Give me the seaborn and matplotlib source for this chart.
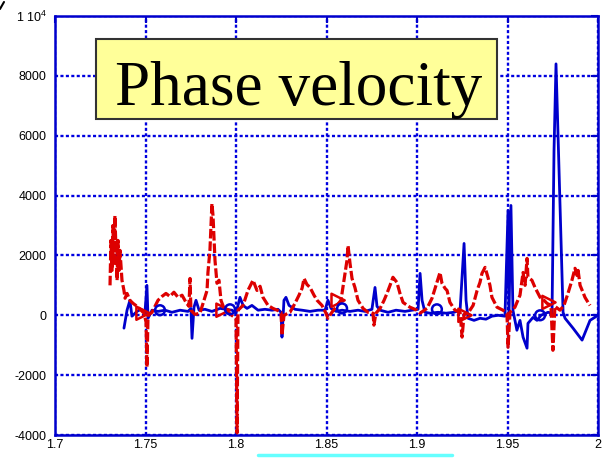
import numpy as np
import pandas as pd
import matplotlib
matplotlib.use("Agg")
import matplotlib.pyplot as plt
from matplotlib.patches import Rectangle
from matplotlib.lines import Line2D
import seaborn as sns

# ---------------- data ----------------
blue_x = [1.7381, 1.7398, 1.7414, 1.7425, 1.7453, 1.7475, 1.7497, 1.7508, 1.7514, 1.7536,
          1.7569, 1.7608, 1.7646, 1.7691, 1.7735, 1.7751, 1.7757, 1.7768, 1.7779, 1.7796,
          1.7829, 1.7867, 1.7912, 1.7945, 1.7978, 1.8000, 1.8022, 1.8039, 1.8061, 1.8088,
          1.8122, 1.8160, 1.8199, 1.8232, 1.8249, 1.8254, 1.8265, 1.8276, 1.8293, 1.8326,
          1.8365, 1.8409, 1.8453, 1.8492, 1.8508, 1.8525, 1.8553, 1.8586, 1.8630, 1.8674,
          1.8713, 1.8751, 1.8768, 1.8779, 1.8796, 1.8840, 1.8884, 1.8934, 1.8972, 1.9006,
          1.9017, 1.9028, 1.9044, 1.9072, 1.9116, 1.9160, 1.9204, 1.9238, 1.9260, 1.9271,
          1.9282, 1.9315, 1.9348, 1.9381, 1.9414, 1.9448, 1.9486, 1.9503, 1.9508, 1.9519,
          1.9530, 1.9552, 1.9569, 1.9586, 1.9608, 1.9613, 1.9641, 1.9663, 1.9685, 1.9724,
          1.9746, 1.9757, 1.9768, 1.9807, 1.9818, 1.9862, 1.9912, 1.9934, 1.9956, 2.0000]
blue_y = [-430, 170, 500, -30, 130, 200, 100, 1000, -100, 170,
          130, 170, 100, 170, 130, 230, -770, 270, 500, 170,
          200, 130, 230, 200, 170, 70, 600, 330, 230, 330,
          170, 200, 170, 200, 100, -730, 500, 600, 330, 200,
          170, 130, 170, 170, 500, 230, 130, 170, 130, 170,
          130, 200, 930, 300, 170, 100, 170, 130, 170, 200,
          1400, 500, 100, 70, 100, 70, 100, 170, 2400, 500,
          -100, -170, -100, -130, -30, 0, -30, 3500, -100, 3670,
          170, -500, -170, -730, -1100, -270, -70, -170, 0, 100,
          70, 5500, 8400, 100, -100, -430, -830, -500, -170, 0]

red_x = [1.7304, 1.7309, 1.7315, 1.7320, 1.7326, 1.7331, 1.7337, 1.7343, 1.7348, 1.7354,
         1.7359, 1.7370, 1.7381, 1.7387, 1.7398, 1.7414, 1.7431, 1.7453, 1.7475, 1.7492,
         1.7503, 1.7508, 1.7514, 1.7536, 1.7569, 1.7591, 1.7613, 1.7635, 1.7657, 1.7680,
         1.7702, 1.7724, 1.7740, 1.7746, 1.7751, 1.7773, 1.7801, 1.7823, 1.7840, 1.7845,
         1.7856, 1.7867, 1.7873, 1.7878, 1.7884, 1.7895, 1.7906, 1.7917, 1.7934, 1.7956,
         1.7983, 1.8000, 1.8006, 1.8011, 1.8039, 1.8066, 1.8094, 1.8116, 1.8133, 1.8149,
         1.8177, 1.8204, 1.8227, 1.8249, 1.8254, 1.8265, 1.8298, 1.8326, 1.8348, 1.8365,
         1.8376, 1.8392, 1.8409, 1.8431, 1.8448, 1.8475, 1.8497, 1.8508, 1.8530, 1.8558,
         1.8580, 1.8602, 1.8613, 1.8619, 1.8630, 1.8641, 1.8657, 1.8674, 1.8702, 1.8729,
         1.8757, 1.8762, 1.8773, 1.8796, 1.8818, 1.8834, 1.8851, 1.8867, 1.8889, 1.8906,
         1.8923, 1.8961, 1.9000, 1.9017, 1.9055, 1.9083, 1.9105, 1.9127, 1.9138, 1.9155,
         1.9166, 1.9182, 1.9210, 1.9238, 1.9249, 1.9260, 1.9282, 1.9310, 1.9332, 1.9348,
         1.9359, 1.9376, 1.9392, 1.9403, 1.9414, 1.9442, 1.9475, 1.9497, 1.9503, 1.9514,
         1.9541, 1.9569, 1.9586, 1.9597, 1.9608, 1.9613, 1.9635, 1.9652, 1.9680, 1.9702,
         1.9718, 1.9740, 1.9751, 1.9762, 1.9790, 1.9812, 1.9834, 1.9856, 1.9873, 1.9884,
         1.9890, 1.9901, 1.9917, 1.9928, 1.9945, 1.9956]
red_y = [1000, 2500, 1500, 3000, 1670, 3330, 2170, 1170, 2500, 1500,
         2170, 1170, 830, 570, 730, 500, 400, 300, 170, 70,
         -230, -1730, 0, 100, 500, 630, 730, 630, 770, 600,
         670, 430, 300, 1230, 170, 30, 70, 500, 830, 1430,
         2170, 3730, 3330, 2670, 1830, 1070, 1170, 500, 230, 100,
         -30, -100, -3930, 170, 330, 830, 1170, 830, 970, 600,
         330, 230, 170, 100, -670, 0, 100, 400, 670, 900,
         1230, 1030, 930, 670, 500, 330, 70, -100, 100, 330,
         500, 1400, 1830, 2330, 1730, 1230, 930, 500, 230, 100,
         70, -330, 70, 230, 500, 730, 1000, 1270, 1100, 730,
         430, 270, 170, 70, 230, 570, 1000, 1430, 1070, 900,
         830, 430, 170, 100, -730, 30, 70, 330, 830, 1100,
         1400, 1600, 1270, 1000, 600, 270, 170, 70, -1070, 100,
         270, 670, 1430, 1000, 1900, 1270, 1170, 930, 600, 500,
         400, 330, -1170, 300, 170, 330, 730, 1170, 1570, 1330,
         1500, 1000, 770, 600, 430, 330]

red_mark_x = [1.7486, 1.7928, 1.8564, 1.9265, 1.9729]
red_mark_y = [70, 170, 500, 0, 430]
blue_mark_x = [1.7580, 1.7967, 1.8586, 1.9110, 1.9680]
blue_mark_y = [170, 200, 230, 200, 0]

yticks = [-4000, -2000, 0, 2000, 4000, 6000, 8000, 10000]
ytick_labels = ['-4000', '-2000', '0', '2000', '4000', '6000', '8000', '1 10$^{4}$']
xticks = [1.7, 1.75, 1.8, 1.85, 1.9, 1.95, 2.0]
xtick_labels = ['1.7', '1.75', '1.8', '1.85', '1.9', '1.95', '2']
title_text = "Phase velocity"

# ---------------- styling ----------------
sns.set_style("white")
plt.rcParams['font.family'] = ['Liberation Sans', 'DejaVu Sans']
plt.rcParams['mathtext.default'] = 'regular'

BLUE = '#0000CC'
GRIDBLUE = '#0000E0'
RED = '#DD0000'

W, H = 613, 458
fig = plt.figure(figsize=(W / 100, H / 100), dpi=100)
ax = fig.add_axes([55 / W, 23 / H, 543 / W, 419 / H])

blue_df = pd.DataFrame({'x': blue_x, 'y': blue_y})
red_df = pd.DataFrame({'x': red_x, 'y': red_y})

sns.lineplot(data=blue_df, x='x', y='y', ax=ax, sort=False, estimator=None,
             color=BLUE, linewidth=2.0, zorder=3)
sns.lineplot(data=red_df, x='x', y='y', ax=ax, sort=False, estimator=None,
             color=RED, linewidth=2.3, linestyle=(0, (3, 0.9)), zorder=4)

sns.scatterplot(x=red_mark_x, y=red_mark_y, ax=ax, marker='>', s=90,
                facecolor='none', edgecolor=RED, linewidth=1.8, zorder=5)
sns.scatterplot(x=blue_mark_x, y=blue_mark_y, ax=ax, marker='o', s=50,
                facecolor='none', edgecolor=BLUE, linewidth=1.8, zorder=5)

ax.set_xlim(1.7, 2.0)
ax.set_ylim(-4000, 10000)
ax.set_xticks(xticks)
ax.set_xticklabels(xtick_labels)
ax.set_yticks(yticks)
ax.set_yticklabels(ytick_labels)
ax.set_xlabel('')
ax.set_ylabel('')

ax.grid(True, color=GRIDBLUE, linestyle=(0, (1.3, 1.0)), linewidth=1.7, zorder=1)
ax.set_axisbelow(True)
for sp in ax.spines.values():
    sp.set_visible(True)
    sp.set_color(BLUE)
    sp.set_linewidth(1.8)

ax.tick_params(axis='both', direction='in', length=5, width=1.5, color=BLUE,
               labelsize=9, labelcolor='black', top=True, right=True)
ax.tick_params(axis='y', pad=6)
ax.tick_params(axis='x', pad=3)

# title box
fig.add_artist(Rectangle((96 / W, (H - 119) / H), (497 - 96) / W, (119 - 39) / H,
                         transform=fig.transFigure, facecolor='#FFFF99',
                         edgecolor='#333333', linewidth=1.5, zorder=10))
fig.text(299 / W, (H - 105) / H, title_text, ha='center', va='baseline',
         family='Liberation Serif', fontsize=45.5, color='black', zorder=11)

# small decorations along the edges
fig.add_artist(Line2D([258 / W, 452 / W], [3 / H, 3 / H], color='#66FFFF',
                      linewidth=2.5, transform=fig.transFigure))
fig.add_artist(Line2D([0 / W, 4 / W], [(H - 9) / H, (H - 2) / H], color='black',
                      linewidth=1.5, transform=fig.transFigure))

fig.savefig('out.png', dpi=100)
